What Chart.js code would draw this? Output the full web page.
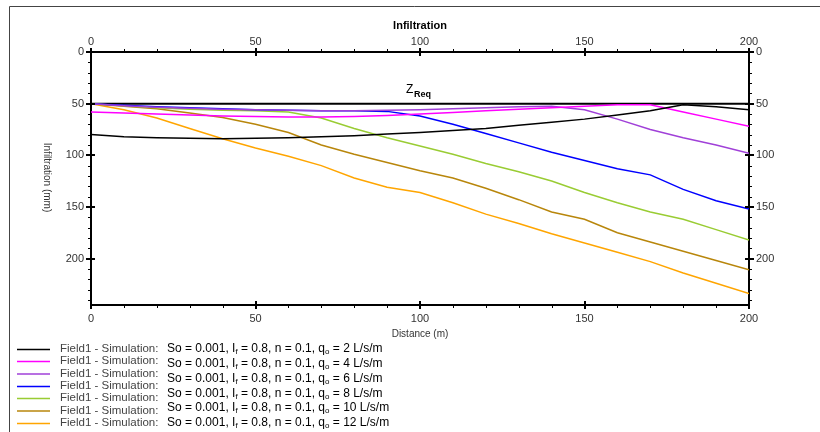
<!DOCTYPE html>
<html>
<head>
<meta charset="utf-8">
<title>Infiltration</title>
<script src="https://cdn.jsdelivr.net/npm/chart.js@4.4.0/dist/chart.umd.min.js"></script>
<style>
  html, body { margin: 0; padding: 0; background: #fff; }
  canvas { display: block; }
</style>
</head>
<body>
<canvas id="chart" width="820" height="432"></canvas>
<script>
// distance along the field (m)
var distance = [0, 10, 20, 30, 40, 50, 60, 70, 80, 90, 100, 110, 120, 130, 140, 150, 160, 170, 180, 190, 200];

// infiltrated depth (mm) for each inflow rate
var infQ2  = [80, 82, 83, 83.5, 84, 83.5, 83, 82, 81, 79.5, 78, 76, 74, 71, 68, 65, 61, 57, 51, 53, 56];
var infQ4  = [58, 59, 60, 61, 62, 62.5, 63, 63, 62.5, 61.5, 60, 58.5, 57, 55.5, 54, 52.5, 51, 51, 58, 65, 72];
var infQ6  = [50, 52, 53.5, 54.5, 55.5, 56, 56.5, 57, 57, 56.5, 56, 55, 54, 53, 52.5, 56, 65, 75, 83, 90, 98];
var infQ8  = [50, 51.5, 53, 54, 55, 56, 56.5, 57, 57, 57.5, 62, 70, 79, 88, 97, 105, 113, 119, 133, 144, 152];
var infQ10 = [50, 52, 54, 55.5, 56.5, 57, 58, 64, 74, 83, 91, 99, 108, 116, 125, 136, 146, 155, 162, 172, 182];
var infQ12 = [50, 52.5, 55, 59, 63.5, 70, 78, 90, 99, 107, 115, 122, 132, 143, 155, 162, 175, 184, 193, 202, 211];
var infQ14 = [50, 56, 64, 74, 84, 93, 101, 110, 122, 131, 136, 146, 157, 166, 176, 185, 194, 203, 214, 224, 234];

// required depth
var zReq = 50;

var xTicks = [0, 50, 100, 150, 200];
var yTicks = [0, 50, 100, 150, 200];
var yMax = 245;

var lineColors = ['#000000', '#ff00ff', '#a040d8', '#0000ff', '#99cc33', '#b8860b', '#ffa500'];
var runLabel = 'Field1 - Simulation:';
var inflowRates = [2, 4, 6, 8, 10, 12];

var series = [infQ2, infQ4, infQ6, infQ8, infQ10, infQ12, infQ14];

function toPoints(ys) {
  return distance.map(function (d, i) { return { x: d, y: ys[i] }; });
}

var datasets = series.map(function (ys, i) {
  return {
    label: runLabel,
    data: toPoints(ys),
    borderColor: lineColors[i],
    borderWidth: 1.5,
    pointRadius: 0,
    tension: 0,
    fill: false
  };
});

datasets.push({
  label: 'ZReq',
  data: [{ x: distance[0], y: zReq }, { x: distance[distance.length - 1], y: zReq }],
  borderColor: '#000000',
  borderWidth: 2,
  pointRadius: 0,
  fill: false
});

var fontFamily = 'Arial, "Liberation Sans"';
var tickFont = { family: fontFamily, size: 11 };
var tickColor = '#333333';

function fixedTicks(list) {
  return function (scale) {
    scale.ticks = list.map(function (v) { return { value: v }; });
  };
}

// tick marks, frame, rotated axis title, ZReq note and the legend
var decorations = {
  id: 'decorations',
  afterDraw: function (chart) {
    var ctx = chart.ctx;
    var area = chart.chartArea;
    var sx = chart.scales.x, sy = chart.scales.y;
    var v, p;

    ctx.save();

    // outer frame
    ctx.strokeStyle = '#444';
    ctx.lineWidth = 1;
    ctx.beginPath();
    ctx.moveTo(9.5, 432);
    ctx.lineTo(9.5, 6.5);
    ctx.lineTo(820, 6.5);
    ctx.stroke();

    // minor and major tick marks on all four sides
    ctx.strokeStyle = '#000';
    ctx.lineWidth = 1;
    ctx.beginPath();
    for (v = 0; v <= 200; v += 10) {
      p = Math.round(sx.getPixelForValue(v)) + 0.5;
      ctx.moveTo(p, area.top - 3); ctx.lineTo(p, area.top);
      ctx.moveTo(p, area.bottom); ctx.lineTo(p, area.bottom + 3);
    }
    for (v = 0; v <= yMax; v += 10) {
      p = Math.round(sy.getPixelForValue(v)) + 0.5;
      ctx.moveTo(area.left - 3, p); ctx.lineTo(area.left, p);
      ctx.moveTo(area.right, p); ctx.lineTo(area.right + 3, p);
    }
    ctx.stroke();
    ctx.lineWidth = 2;
    ctx.beginPath();
    xTicks.forEach(function (t) {
      var px = Math.round(sx.getPixelForValue(t));
      ctx.moveTo(px, area.top - 4); ctx.lineTo(px, area.top + 4);
      ctx.moveTo(px, area.bottom - 4); ctx.lineTo(px, area.bottom + 4);
    });
    yTicks.forEach(function (t) {
      var py = Math.round(sy.getPixelForValue(t));
      ctx.moveTo(area.left - 5, py); ctx.lineTo(area.left + 4, py);
      ctx.moveTo(area.right - 4, py); ctx.lineTo(area.right + 5, py);
    });
    ctx.stroke();

    // y axis title, reading downwards
    ctx.save();
    ctx.translate(47, (area.top + area.bottom) / 2 - 1);
    ctx.rotate(Math.PI / 2);
    ctx.fillStyle = tickColor;
    ctx.font = '10px ' + fontFamily;
    ctx.textAlign = 'center';
    ctx.textBaseline = 'middle';
    ctx.fillText('Infiltration (mm)', 0, 0);
    ctx.restore();

    // ZReq note above the required-depth line
    var zx = sx.getPixelForValue(100);
    var zy = sy.getPixelForValue(zReq);
    ctx.fillStyle = '#000';
    ctx.textAlign = 'left';
    ctx.textBaseline = 'alphabetic';
    ctx.font = '12px ' + fontFamily;
    ctx.fillText('Z', zx - 14, zy - 11);
    ctx.font = 'bold 9px ' + fontFamily;
    ctx.fillText('Req', zx - 6, zy - 7);

    // legend
    var rowY = [349, 361, 373.5, 386, 398, 410.5, 423];
    var paramY = [349, 363.5, 378.5, 393.5, 408, 423];
    ctx.lineWidth = 1.5;
    rowY.forEach(function (y, i) {
      ctx.strokeStyle = lineColors[i];
      ctx.beginPath();
      ctx.moveTo(17, y + 0.5);
      ctx.lineTo(50, y + 0.5);
      ctx.stroke();
      ctx.fillStyle = '#444';
      ctx.font = '11.5px ' + fontFamily;
      ctx.textBaseline = 'middle';
      ctx.fillText(runLabel, 60, y);
    });
    paramY.forEach(function (y, i) {
      drawParams(ctx, 167, y, inflowRates[i]);
    });

    ctx.restore();
  }
};

// "So = 0.001, If = 0.8, n = 0.1, qo = 2 L/s/m" with subscripts
function drawParams(ctx, x, y, q) {
  var parts = [
    ['So = 0.001, I', false], ['f', true], [' = 0.8, n = 0.1, q', false], ['o', true], [' = ' + q + ' L/s/m', false]
  ];
  ctx.fillStyle = '#000';
  ctx.textBaseline = 'middle';
  parts.forEach(function (part) {
    ctx.font = part[1] ? '8px ' + fontFamily : '12px ' + fontFamily;
    ctx.fillText(part[0], x, part[1] ? y + 3 : y);
    x += ctx.measureText(part[0]).width;
  });
}

new Chart(document.getElementById('chart'), {
  type: 'line',
  data: { datasets: datasets },
  plugins: [decorations],
  options: {
    responsive: false,
    animation: false,
    devicePixelRatio: 1,
    layout: { padding: { left: 10, right: 10, top: 8, bottom: 87 } },
    plugins: {
      legend: { display: false },
      tooltip: { enabled: false }
    },
    scales: {
      x: {
        type: 'linear', position: 'bottom', min: 0, max: 200,
        afterBuildTicks: fixedTicks(xTicks),
        afterFit: function (s) { s.height = 40; },
        grid: { display: false, drawTicks: false },
        border: { display: true, color: '#000', width: 2 },
        ticks: { padding: 7, color: tickColor, font: tickFont, autoSkip: false, maxRotation: 0 },
        title: { display: true, text: 'Distance (m)', color: tickColor, font: { family: fontFamily, size: 10 }, padding: { top: 0, bottom: 5 } }
      },
      x2: {
        type: 'linear', position: 'top', min: 0, max: 200,
        afterBuildTicks: fixedTicks(xTicks),
        afterFit: function (s) { s.height = 44; },
        grid: { display: false, drawTicks: false },
        border: { display: true, color: '#000', width: 2 },
        ticks: { padding: 3, color: tickColor, font: tickFont, autoSkip: false, maxRotation: 0 },
        title: { display: true, text: 'Infiltration', color: '#000', font: { family: fontFamily, size: 11, weight: 'bold' }, padding: { top: 11, bottom: 0 } }
      },
      y: {
        type: 'linear', position: 'left', reverse: true, min: 0, max: yMax,
        afterBuildTicks: fixedTicks(yTicks),
        afterFit: function (s) { s.width = 81; },
        grid: { display: false, drawTicks: false },
        border: { display: true, color: '#000', width: 2 },
        ticks: { padding: 7, color: tickColor, font: tickFont }
      },
      y2: {
        type: 'linear', position: 'right', reverse: true, min: 0, max: yMax,
        afterBuildTicks: fixedTicks(yTicks),
        afterFit: function (s) { s.width = 61; },
        grid: { display: false, drawTicks: false },
        border: { display: true, color: '#000', width: 2 },
        ticks: { padding: 7, color: tickColor, font: tickFont }
      }
    }
  }
});
</script>
</body>
</html>
